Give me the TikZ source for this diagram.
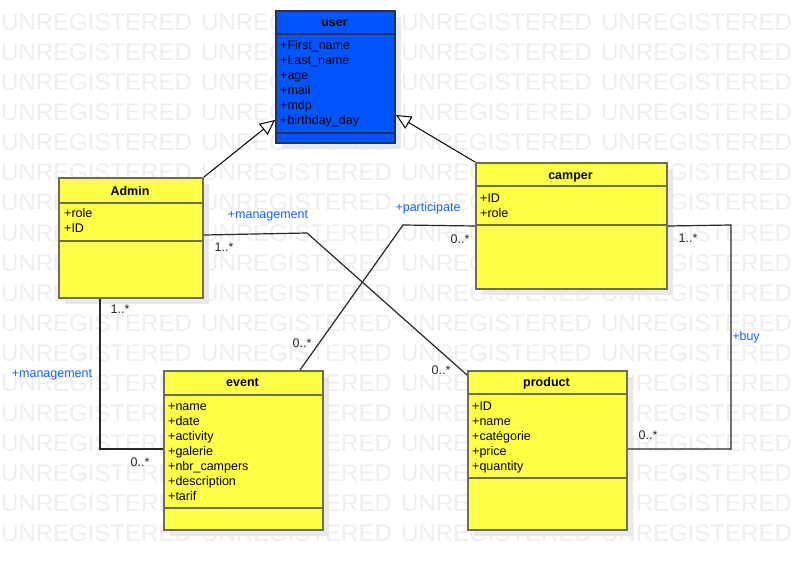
\documentclass[tikz,border=0pt]{standalone}
\usepackage{fontspec}
\setmainfont{Liberation Sans}
\usetikzlibrary{arrows.meta,shadows}
\definecolor{wmgray}{RGB}{238,238,238}
\definecolor{shadowgray}{RGB}{232,232,232}
\definecolor{classyellow}{RGB}{255,255,72}
\definecolor{classblue}{RGB}{0,85,255}
\definecolor{yborder}{RGB}{110,110,80}
\definecolor{bborder}{RGB}{40,50,80}
\definecolor{lblblue}{RGB}{20,100,255}
\definecolor{linegray}{RGB}{40,40,40}
\tikzset{
  wm/.style={anchor=base west, inner sep=0pt, text=wmgray, font=\fontsize{24}{24}\selectfont},
  classbox/.style={draw=yborder, fill=classyellow, line width=2pt, anchor=north west, inner sep=0pt,
    drop shadow={shadow xshift=6pt, shadow yshift=-6pt, fill=shadowgray, opacity=1}},
  userbox/.style={classbox, draw=bborder, fill=classblue},
  sep/.style={draw=yborder, line width=2pt},
  usep/.style={draw=bborder, line width=2pt},
  ctitle/.style={font=\fontsize{12.5}{15}\selectfont\bfseries, inner sep=0pt, text height=9pt, text depth=3pt, yshift=-1.5pt},
  attr/.style={anchor=west, font=\fontsize{12.5}{15}\selectfont, inner sep=0pt, text height=9pt, text depth=3pt, yshift=-1.5pt},
  assoc/.style={draw=linegray, line width=1.2pt},
  gen/.style={draw=black, line width=1pt, -{Triangle[length=15pt,width=14pt,fill=white]}},
  lbl/.style={font=\fontsize{12.5}{15}\selectfont, text=lblblue, inner sep=0pt},
  mult/.style={font=\fontsize{12.5}{15}\selectfont, text=linegray, inner sep=0pt}
}
\begin{document}
\begin{tikzpicture}[x=1pt,y=-1pt]
\useasboundingbox[fill=white] (0,0) rectangle (799,569);
% watermark
\foreach \r in {0,...,17}{
  \foreach \c in {0,...,3}{
    \node[wm] (wm-\r-\c) at ({1+200*\c},{31+30*\r}) {UNREGISTERED};
  }
}
% class boxes
\node[userbox, minimum width=119pt, minimum height=132pt] (user) at (275,10) {};
\node[classbox, minimum width=144pt, minimum height=120pt] (admin) at (58,177) {};
\node[classbox, minimum width=191pt, minimum height=126pt] (camper) at (475,162) {};
\node[classbox, minimum width=159pt, minimum height=159pt] (event) at (163,370) {};
\node[classbox, minimum width=159pt, minimum height=159pt] (product) at (467,370) {};
% separators
\draw[usep] (275,34) -- (394,34);
\draw[usep] (275,133) -- (394,133);
\draw[sep] (58,203) -- (202,203);
\draw[sep] (58,241) -- (202,241);
\draw[sep] (475,186) -- (666,186);
\draw[sep] (475,225) -- (666,225);
\draw[sep] (163,395) -- (322,395);
\draw[sep] (163,508) -- (322,508);
\draw[sep] (467,394) -- (626,394);
\draw[sep] (467,478) -- (626,478);
% titles
\node[ctitle] (user-t) at (334.5,22) {user};
\node[ctitle] (admin-t) at (130,191) {Admin};
\node[ctitle] (camper-t) at (570.5,175) {camper};
\node[ctitle] (event-t) at (242.5,382) {event};
\node[ctitle] (product-t) at (546.5,382) {product};
% attributes
\foreach \t [count=\i] in {+First\_name,+Last\_name,+age,+mail,+mdp,+birthday\_day}
  \node[attr] (user-a\i) at (280,{45+15*(\i-1)}) {\t};
\foreach \t [count=\i] in {+role,+ID}
  \node[attr] (admin-a\i) at (64,{213+15*(\i-1)}) {\t};
\foreach \t [count=\i] in {+ID,+role}
  \node[attr] (camper-a\i) at (480,{198+15*(\i-1)}) {\t};
\foreach \t [count=\i] in {+name,+date,+activity,+galerie,+nbr\_campers,+description,+tarif}
  \node[attr] (event-a\i) at (168,{406+15*(\i-1)}) {\t};
\foreach \t [count=\i] in {+ID,+name,+catégorie,+price,+quantity}
  \node[attr] (product-a\i) at (472,{406+15*(\i-1)}) {\t};
% bend points
\coordinate (c1) at (307,233);
\coordinate (c2) at (403,225);
\coordinate (c3) at (100,449);
\coordinate (c4) at (731,225);
\coordinate (c5) at (731,449);
% generalizations
\draw[gen] (admin.north east) -- ([yshift=-110pt]user.north west);
\draw[gen] (camper.north west) -- ([yshift=-105pt]user.north east);
% associations
\draw[assoc] ([yshift=3pt]admin.east) -- (c1) -- ([yshift=-5pt]product.north west);
\draw[assoc] (camper.west) -- (c2) -- ([xshift=137pt]event.north west);
\draw[assoc] ([xshift=42pt]admin.south west) -- (c3) -- (event.west |- c3);
\draw[assoc] (camper.east) -- (c4) -- (c5) -- (product.east |- c5);
% labels
\node[lbl] (l1) at (268,216) {+management};
\node[mult] (m1) at (224,247) {1..*};
\node[mult] (m2) at (441,370) {0..*};
\node[lbl] (l2) at (428,208) {+participate};
\node[mult] (m3) at (460,239) {0..*};
\node[mult] (m4) at (302,343) {0..*};
\node[mult] (m5) at (120,309) {1..*};
\node[lbl] (l3) at (52,375) {+management};
\node[mult] (m6) at (140,462) {0..*};
\node[mult] (m7) at (688,238) {1..*};
\node[lbl] (l4) at (746,337) {+buy};
\node[mult] (m8) at (648,435) {0..*};
\end{tikzpicture}
\end{document}
